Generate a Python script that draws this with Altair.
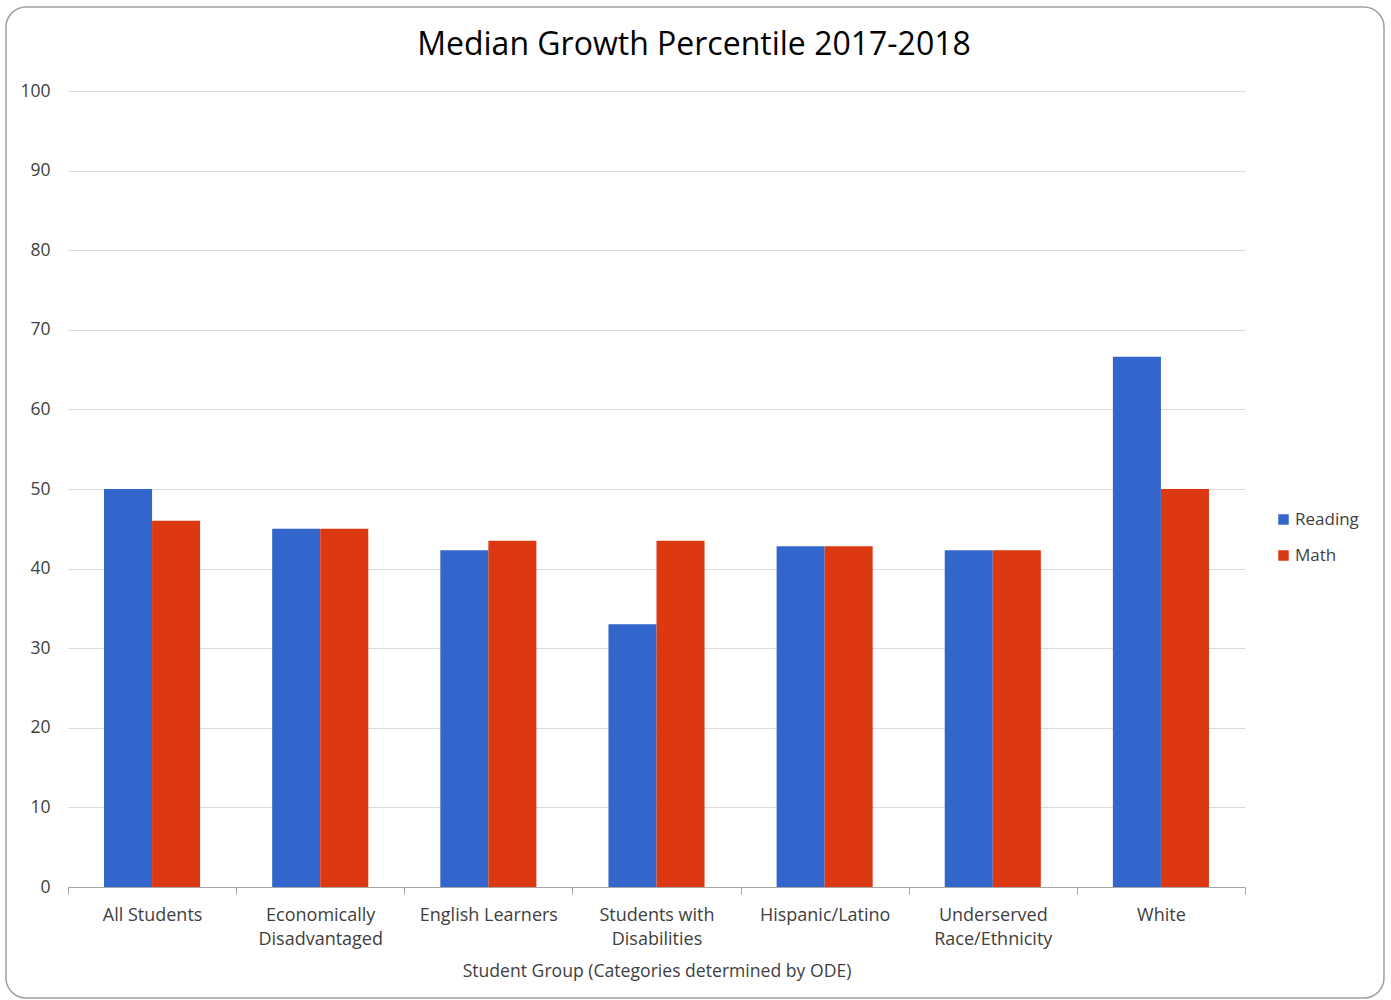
import altair as alt
import pandas as pd

title_text = "Median Growth Percentile 2017-2018"
groups = ["All Students", "Economically|Disadvantaged", "English Learners",
          "Students with|Disabilities", "Hispanic/Latino",
          "Underserved|Race/Ethnicity", "White"]
reading = [50, 45, 42.3, 33, 42.8, 42.3, 66.6]
math = [46, 45, 43.5, 43.5, 42.8, 42.3, 50]
subjects = ["Reading", "Math"]
colors = ["#3366cc", "#dc3912"]

rows = []
for g, r, m in zip(groups, reading, math):
    rows.append({"group": g, "subject": "Reading", "value": r})
    rows.append({"group": g, "subject": "Math", "value": m})
df = pd.DataFrame(rows)

FONT = "Open Sans"
W, H = 1177, 796
TXT = "#404040"

bars = alt.Chart(df).mark_bar().encode(
    x=alt.X("group:N", sort=groups,
            scale=alt.Scale(paddingInner=0, paddingOuter=0),
            axis=alt.Axis(title="Student Group (Categories determined by ODE)",
                          labelAngle=0, labelExpr="split(datum.label, '|')",
                          labelFontSize=18, labelColor=TXT, labelFont=FONT,
                          labelPadding=12, labelLineHeight=24, grid=False,
                          tickBand="extent", tickSize=7, tickColor="#a6a6a6",
                          domainColor="#a6a6a6", titleFontSize=17.6,
                          titleFontWeight="normal", titleColor=TXT,
                          titleFont=FONT, titlePadding=14)),
    xOffset=alt.XOffset("subject:N", sort=subjects,
                        scale=alt.Scale(paddingInner=0, paddingOuter=0.75)),
    y=alt.Y("value:Q", scale=alt.Scale(domain=[0, 100]),
            axis=alt.Axis(title=None, values=list(range(0, 101, 10)),
                          grid=True, gridColor="#d9d9d9", domain=False,
                          ticks=False, labelPadding=18, labelFontSize=17.5,
                          labelColor=TXT, labelFont=FONT)),
    color=alt.Color("subject:N", sort=subjects,
                    scale=alt.Scale(domain=subjects, range=colors),
                    legend=alt.Legend(title=None, orient="none",
                                      legendX=1207, legendY=420,
                                      symbolType="square", symbolSize=110,
                                      symbolStrokeWidth=0, labelOffset=3,
                                      labelFontSize=17, labelFont=FONT,
                                      labelColor=TXT, rowPadding=18)),
)

one = alt.Data(values=[{}])

border = alt.Chart(one).mark_rect(
    fill="transparent", stroke="#a0a0a0", strokeWidth=1.5, cornerRadius=20
).encode(x=alt.value(-62), x2=alt.value(1316), y=alt.value(-84), y2=alt.value(907))

title = alt.Chart(one).mark_text(
    text=title_text, fontSize=32, font=FONT, color="#000000",
    align="center", baseline="middle"
).encode(x=alt.value(626), y=alt.value(-46))

chart = alt.layer(border, bars, title).properties(
    width=W, height=H,
    padding={"left": 68, "top": 91, "right": 146, "bottom": 113},
    autosize=alt.AutoSizeParams(type="none"),
).configure(
    background="white",
    view=alt.ViewConfig(stroke="transparent", strokeWidth=0, strokeOpacity=0),
    style={"cell": {"stroke": "transparent", "strokeWidth": 0}},
    axisX=alt.AxisConfig(grid=False),
)

chart.save("out.html", embed_options={"renderer": "svg", "actions": False})
